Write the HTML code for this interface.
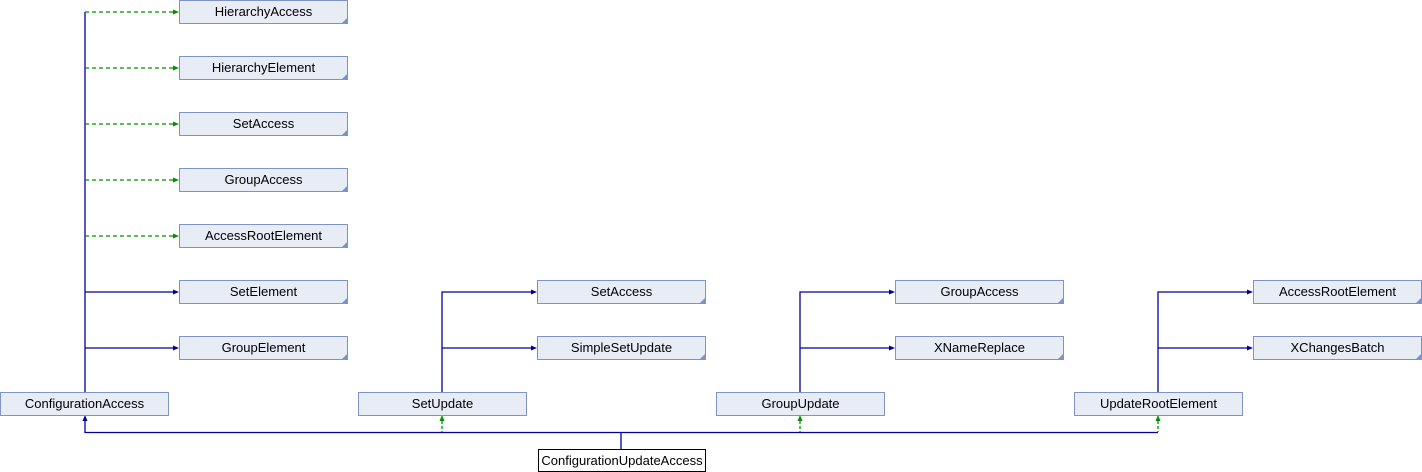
<!DOCTYPE html>
<html><head><meta charset="utf-8"><style>
html,body{margin:0;padding:0;background:#fff;}
svg{display:block;}
text{font-family:"Liberation Sans",sans-serif;font-size:13px;fill:#000;}
</style></head><body>
<svg width="1422" height="472" viewBox="0 0 1422 472" xmlns="http://www.w3.org/2000/svg">
<defs>
<g id="corner"><polygon points="0,0 -5,0 0,-5" fill="#7f93c4"/></g>
</defs>
<g id="edges" stroke-width="1.3" fill="none">
<line x1="85" y1="12" x2="85" y2="392" stroke="#0000a0"/>
<g stroke="#009000" stroke-dasharray="4,3">
<line x1="85" y1="12" x2="174" y2="12"/>
<line x1="85" y1="68" x2="174" y2="68"/>
<line x1="85" y1="124" x2="174" y2="124"/>
<line x1="85" y1="180" x2="174" y2="180"/>
<line x1="85" y1="236" x2="174" y2="236"/>
</g>
<g stroke="#0000a0">
<line x1="85" y1="292" x2="174" y2="292"/>
<line x1="85" y1="348" x2="174" y2="348"/>
<polyline points="442,392 442,292 532,292"/>
<line x1="442" y1="348" x2="532" y2="348"/>
<polyline points="800,392 800,292 890,292"/>
<line x1="800" y1="348" x2="890" y2="348"/>
<polyline points="1158,392 1158,292 1248,292"/>
<line x1="1158" y1="348" x2="1248" y2="348"/>
<polyline points="85,421 85,432.5 1158,432.5"/>
<line x1="621" y1="432.5" x2="621" y2="449"/>
</g>
<g stroke="#009000" stroke-dasharray="3,2">
<line x1="442" y1="421" x2="442" y2="432"/>
<line x1="800" y1="421" x2="800" y2="432"/>
<line x1="1158" y1="421" x2="1158" y2="432"/>
</g>
</g>
<g id="heads">
<g fill="#009000">
<polygon points="173,9.5 179,12 173,14.5"/>
<polygon points="173,65.5 179,68 173,70.5"/>
<polygon points="173,121.5 179,124 173,126.5"/>
<polygon points="173,177.5 179,180 173,182.5"/>
<polygon points="173,233.5 179,236 173,238.5"/>
<polygon points="439.5,421 442,415 444.5,421"/>
<polygon points="797.5,421 800,415 802.5,421"/>
<polygon points="1155.5,421 1158,415 1160.5,421"/>
</g>
<g fill="#0000a0">
<polygon points="173,289.5 179,292 173,294.5"/>
<polygon points="173,345.5 179,348 173,350.5"/>
<polygon points="531,289.5 537,292 531,294.5"/>
<polygon points="531,345.5 537,348 531,350.5"/>
<polygon points="889,289.5 895,292 889,294.5"/>
<polygon points="889,345.5 895,348 889,350.5"/>
<polygon points="1247,289.5 1253,292 1247,294.5"/>
<polygon points="1247,345.5 1253,348 1247,350.5"/>
<polygon points="82.5,421 85,415 87.5,421"/>
</g>
</g>
<g id="boxes" stroke="#7f93c4" stroke-width="1" fill="#e8ecf5">
<rect x="179.5" y="0.5" width="168" height="23"/>
<rect x="179.5" y="56.5" width="168" height="23"/>
<rect x="179.5" y="112.5" width="168" height="23"/>
<rect x="179.5" y="168.5" width="168" height="23"/>
<rect x="179.5" y="224.5" width="168" height="23"/>
<rect x="179.5" y="280.5" width="168" height="23"/>
<rect x="179.5" y="336.5" width="168" height="23"/>
<rect x="537.5" y="280.5" width="168" height="23"/>
<rect x="537.5" y="336.5" width="168" height="23"/>
<rect x="895.5" y="280.5" width="168" height="23"/>
<rect x="895.5" y="336.5" width="168" height="23"/>
<rect x="1253.5" y="280.5" width="168" height="23"/>
<rect x="1253.5" y="336.5" width="168" height="23"/>
<rect x="0.5" y="392.5" width="168" height="23"/>
<rect x="358.5" y="392.5" width="168" height="23"/>
<rect x="716.5" y="392.5" width="168" height="23"/>
<rect x="1074.5" y="392.5" width="168" height="23"/>
</g>
<rect x="538.5" y="449.5" width="167" height="22" fill="#fff" stroke="#000" stroke-width="1"/>
<g>
<use href="#corner" x="347" y="23"/><use href="#corner" x="347" y="79"/><use href="#corner" x="347" y="135"/>
<use href="#corner" x="347" y="191"/><use href="#corner" x="347" y="247"/><use href="#corner" x="347" y="303"/>
<use href="#corner" x="347" y="359"/><use href="#corner" x="705" y="303"/><use href="#corner" x="705" y="359"/>
<use href="#corner" x="1063" y="303"/><use href="#corner" x="1063" y="359"/><use href="#corner" x="1421" y="303"/>
<use href="#corner" x="1421" y="359"/>
</g>
<g text-anchor="middle">
<text x="263.5" y="16">HierarchyAccess</text>
<text x="263.5" y="72">HierarchyElement</text>
<text x="263.5" y="128">SetAccess</text>
<text x="263.5" y="184">GroupAccess</text>
<text x="263.5" y="240">AccessRootElement</text>
<text x="263.5" y="296">SetElement</text>
<text x="263.5" y="352">GroupElement</text>
<text x="621.5" y="296">SetAccess</text>
<text x="621.5" y="352">SimpleSetUpdate</text>
<text x="979.5" y="296">GroupAccess</text>
<text x="979.5" y="352">XNameReplace</text>
<text x="1337.5" y="296">AccessRootElement</text>
<text x="1337.5" y="352">XChangesBatch</text>
<text x="84.5" y="408">ConfigurationAccess</text>
<text x="442.5" y="408">SetUpdate</text>
<text x="800.5" y="408">GroupUpdate</text>
<text x="1158.5" y="408">UpdateRootElement</text>
<text x="622" y="465">ConfigurationUpdateAccess</text>
</g>
</svg>
</body></html>
